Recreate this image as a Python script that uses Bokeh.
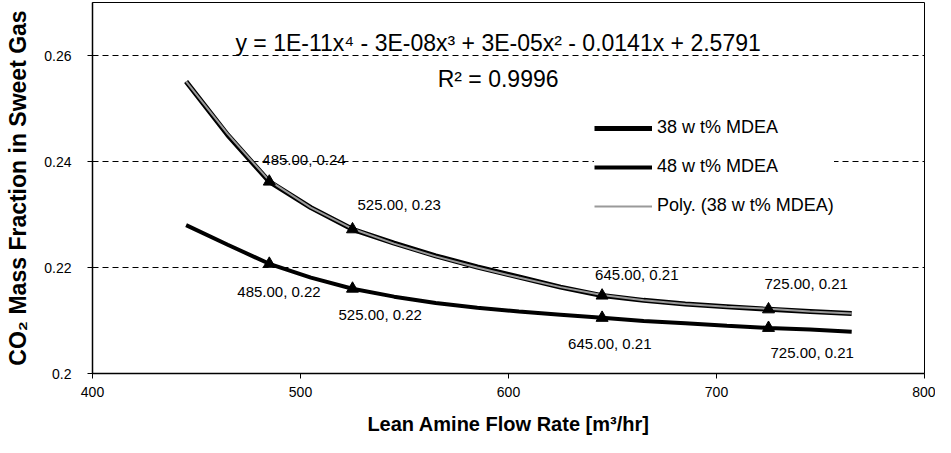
from bokeh.plotting import figure
from bokeh.models import Range1d, FixedTicker, Legend, LegendItem, Label, ColumnDataSource
from bokeh.embed import file_html
from bokeh.resources import INLINE
from bokeh.core.properties import value

# ---- data ----
curve_x = [445, 465, 485, 505, 525, 545, 565, 585, 605, 625, 645, 665, 685, 705, 725, 745, 765]
mdea38_curve = [0.2551, 0.2450, 0.2362, 0.2313, 0.2272, 0.2246, 0.2222, 0.2201, 0.2182,
                0.2163, 0.2147, 0.2138, 0.2131, 0.2126, 0.2121, 0.2117, 0.2113]
poly38_curve = [0.2551, 0.2452, 0.2364, 0.2313, 0.2273, 0.2245, 0.2221, 0.2200, 0.2181,
                0.2163, 0.2148, 0.2138, 0.2131, 0.2126, 0.2122, 0.2117, 0.2113]
mdea48_curve = [0.2280, 0.2243, 0.2207, 0.2181, 0.2160, 0.2145, 0.2133, 0.2124, 0.2117,
                0.2111, 0.2105, 0.2099, 0.2095, 0.2090, 0.2086, 0.2083, 0.2079]

marker_x = [485, 525, 645, 725]
mdea38_pts = [0.2362, 0.2272, 0.2147, 0.2121]
mdea48_pts = [0.2207, 0.2160, 0.2105, 0.2086]

x_ticks = [400, 500, 600, 700, 800]
y_ticks = [0.20, 0.22, 0.24, 0.26]
y_tick_labels = ["0.2", "0.22", "0.24", "0.26"]

equation_text = "y = 1E-11x\u2074 - 3E-08x\u00b3 + 3E-05x\u00b2 - 0.0141x + 2.5791"
r2_text = "R\u00b2 = 0.9996"

# label offsets (screen px) for the data labels
off38_x = [-7, 5, -7, -4]
off38_y = [-22, -25, -21, -26]
off48_x = [-32, -14, -34, 2]
off48_y = [28, 26, 26, 25]

FONT = "Liberation Sans"

p = figure(width=935, height=437, output_backend="svg", toolbar_location=None,
           x_range=Range1d(400, 800), y_range=Range1d(0.2, 0.27),
           min_border_left=92, min_border_right=11, min_border_top=2, min_border_bottom=63,
           background_fill_color="white", border_fill_color="white")

p.outline_line_color = "black"
p.outline_line_width = 1

# grid
p.xgrid.visible = False
p.ygrid.ticker = FixedTicker(ticks=y_ticks[1:])
p.ygrid.grid_line_color = "black"
p.ygrid.grid_line_dash = "6 4"
p.ygrid.grid_line_width = 1

# axes
p.xaxis.ticker = FixedTicker(ticks=x_ticks)
p.yaxis.ticker = FixedTicker(ticks=y_ticks)
p.yaxis.major_label_overrides = {t: l for t, l in zip(y_ticks, y_tick_labels)}
for ax in (p.xaxis, p.yaxis):
    ax.axis_line_color = "black"
    ax.axis_line_width = 1.5
    ax.major_tick_line_color = "black"
    ax.major_tick_in = 0
    ax.major_tick_out = 5
    ax.minor_tick_line_color = None
    ax.major_label_text_font = FONT
    ax.major_label_text_font_size = "14px"
    ax.major_label_text_color = "black"
    ax.axis_label_text_font = FONT
    ax.axis_label_text_font_style = "bold"
    ax.axis_label_text_color = "black"

p.yaxis.major_label_standoff = 16
p.xaxis.major_label_standoff = 8
p.yaxis.axis_label = "CO\u2082 Mass Fraction in Sweet Gas"
p.xaxis.axis_label = "Lean Amine Flow Rate [m\u00b3/hr]"
p.yaxis.axis_label_text_font_size = "23px"
p.xaxis.axis_label_text_font_size = "20px"
p.yaxis.axis_label_standoff = 10
p.xaxis.axis_label_standoff = 13

# curves
r38 = p.line(curve_x, mdea38_curve, line_color="black", line_width=5)
r48 = p.line(curve_x, mdea48_curve, line_color="black", line_width=4)
rpoly = p.line(curve_x, poly38_curve, line_color="#9a9a9a", line_width=2)

# markers
p.scatter(marker_x, mdea38_pts, marker="triangle", size=12, color="black")
p.scatter(marker_x, mdea48_pts, marker="triangle", size=12, color="black")

# data labels
def lab(xs, ys):
    return [f"{x:.2f}, {y:.2f}" for x, y in zip(xs, ys)]

src38 = ColumnDataSource(dict(x=marker_x, y=mdea38_pts, t=lab(marker_x, mdea38_pts),
                              dx=off38_x, dy=off38_y))
src48 = ColumnDataSource(dict(x=marker_x, y=mdea48_pts, t=lab(marker_x, mdea48_pts),
                              dx=off48_x, dy=off48_y))
for src in (src38, src48):
    p.text(x="x", y="y", text="t", x_offset="dx", y_offset="dy", source=src,
           text_font=value(FONT), text_font_size="15px", text_color="black",
           text_align="left", text_baseline="middle")

# trendline equation
p.add_layout(Label(x=595, y=0.2624, text=equation_text, text_align="center",
                   text_baseline="middle", text_font=FONT, text_font_size="23px",
                   text_color="black"))
p.add_layout(Label(x=595, y=0.2555, text=r2_text, text_align="center",
                   text_baseline="middle", text_font=FONT, text_font_size="23px",
                   text_color="black"))

legend = Legend(items=[LegendItem(label="38 w t% MDEA", renderers=[r38]),
                       LegendItem(label="48 w t% MDEA", renderers=[r48]),
                       LegendItem(label="Poly. (38 w t% MDEA)", renderers=[rpoly])],
                location=(502, 157), orientation="vertical",
                label_text_font=FONT, label_text_font_size="18px", label_text_color="black",
                glyph_width=58, glyph_height=20, label_height=20, label_standoff=5,
                spacing=18, padding=9, margin=0,
                border_line_color=None, background_fill_color="white", background_fill_alpha=1)
p.add_layout(legend)

open("out.html", "w").write(file_html(p, INLINE))
